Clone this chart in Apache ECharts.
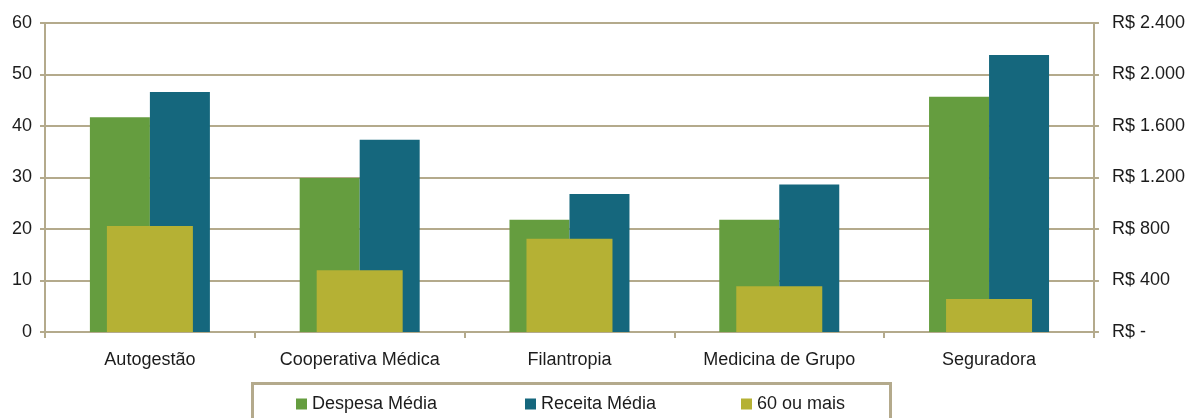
<!DOCTYPE html>
<html>
<head>
<meta charset="utf-8">
<script src="https://cdn.jsdelivr.net/npm/echarts@6/dist/echarts.min.js"></script>
<style>
  html, body { margin: 0; padding: 0; background: #ffffff; }
  #chart { width: 1188px; height: 418px; }
</style>
</head>
<body>
<div id="chart"></div>
<script>
// Operator types
const categories = ['Autogestão', 'Cooperativa Médica', 'Filantropia', 'Medicina de Grupo', 'Seguradora'];
// Average expense and revenue per beneficiary (R$, right axis)
const despesaMedia = [1667, 1196, 872, 872, 1827];
const receitaMedia = [1864, 1494, 1072, 1146, 2151];
// Share of beneficiaries aged 60 or over (%, left axis)
const sessentaOuMais = [20.6, 12.0, 18.1, 8.9, 6.4];
// Axis ticks
const leftTicks = [0, 10, 20, 30, 40, 50, 60];
const rightTicks = [0, 400, 800, 1200, 1600, 2000, 2400];

const TAN = '#b4aa8c';
const TEXT = '#1c1c1c';
const FONT = 'Liberation Sans, Arial, sans-serif';
const FS = 18;

function reais(v) {
  if (v === 0) return 'R$ -';
  return 'R$ ' + String(v).replace(/\B(?=(\d{3})+(?!\d))/g, '.');
}

const chart = echarts.init(document.getElementById('chart'), null, { renderer: 'canvas' });

const legendBase = {
  top: 395,
  padding: 0,
  itemWidth: 11,
  itemHeight: 11,
  itemGap: 4,
  icon: 'rect',
  textStyle: { color: TEXT, fontSize: FS, fontFamily: FONT }
};

chart.setOption({
  animation: false,
  backgroundColor: '#ffffff',
  grid: { left: 45, right: 93, top: 23, bottom: 86, containLabel: false },
  legend: [
    Object.assign({}, legendBase, { left: 296, data: ['Despesa Média'] }),
    Object.assign({}, legendBase, { left: 525, data: ['Receita Média'] }),
    Object.assign({}, legendBase, { left: 741, data: ['60 ou mais'] })
  ],
  graphic: [{
    type: 'rect',
    left: 250,
    top: 381,
    shape: { width: 638, height: 60 },
    style: { fill: 'none', stroke: TAN, lineWidth: 3 },
    z: -1
  }],
  xAxis: [
    {
      type: 'category',
      data: categories,
      axisLine: { lineStyle: { color: TAN, width: 2 } },
      axisTick: { show: true, length: 6, lineStyle: { color: TAN, width: 2 } },
      axisLabel: { color: TEXT, fontSize: FS, fontFamily: FONT, margin: 19 },
      splitLine: { show: false }
    },
    {
      type: 'category',
      data: categories,
      show: false
    }
  ],
  yAxis: [
    {
      type: 'value',
      min: leftTicks[0],
      max: leftTicks[leftTicks.length - 1],
      interval: 10,
      position: 'left',
      axisLine: { show: true, lineStyle: { color: TAN, width: 2 } },
      axisTick: { show: true, length: 5, lineStyle: { color: TAN, width: 2 } },
      axisLabel: { color: TEXT, fontSize: FS, fontFamily: FONT, margin: 13 },
      splitLine: { show: true, lineStyle: { color: TAN, width: 2 } }
    },
    {
      type: 'value',
      min: rightTicks[0],
      max: rightTicks[rightTicks.length - 1],
      interval: 400,
      position: 'right',
      axisLine: { show: true, lineStyle: { color: TAN, width: 2 } },
      axisTick: { show: true, length: 5, lineStyle: { color: TAN, width: 2 } },
      axisLabel: { color: TEXT, fontSize: FS, fontFamily: FONT, margin: 18, formatter: reais },
      splitLine: { show: false }
    }
  ],
  series: [
    {
      name: 'Despesa Média',
      type: 'bar',
      xAxisIndex: 0,
      yAxisIndex: 1,
      data: despesaMedia,
      barWidth: 60,
      barGap: '0%',
      itemStyle: { color: '#659d3f' },
      z: 2
    },
    {
      name: 'Receita Média',
      type: 'bar',
      xAxisIndex: 0,
      yAxisIndex: 1,
      data: receitaMedia,
      barWidth: 60,
      barGap: '0%',
      itemStyle: { color: '#15677d' },
      z: 2
    },
    {
      name: '60 ou mais',
      type: 'bar',
      xAxisIndex: 1,
      yAxisIndex: 0,
      data: sessentaOuMais,
      barWidth: 86,
      itemStyle: { color: '#b5b134' },
      z: 3
    }
  ]
});
</script>
</body>
</html>
